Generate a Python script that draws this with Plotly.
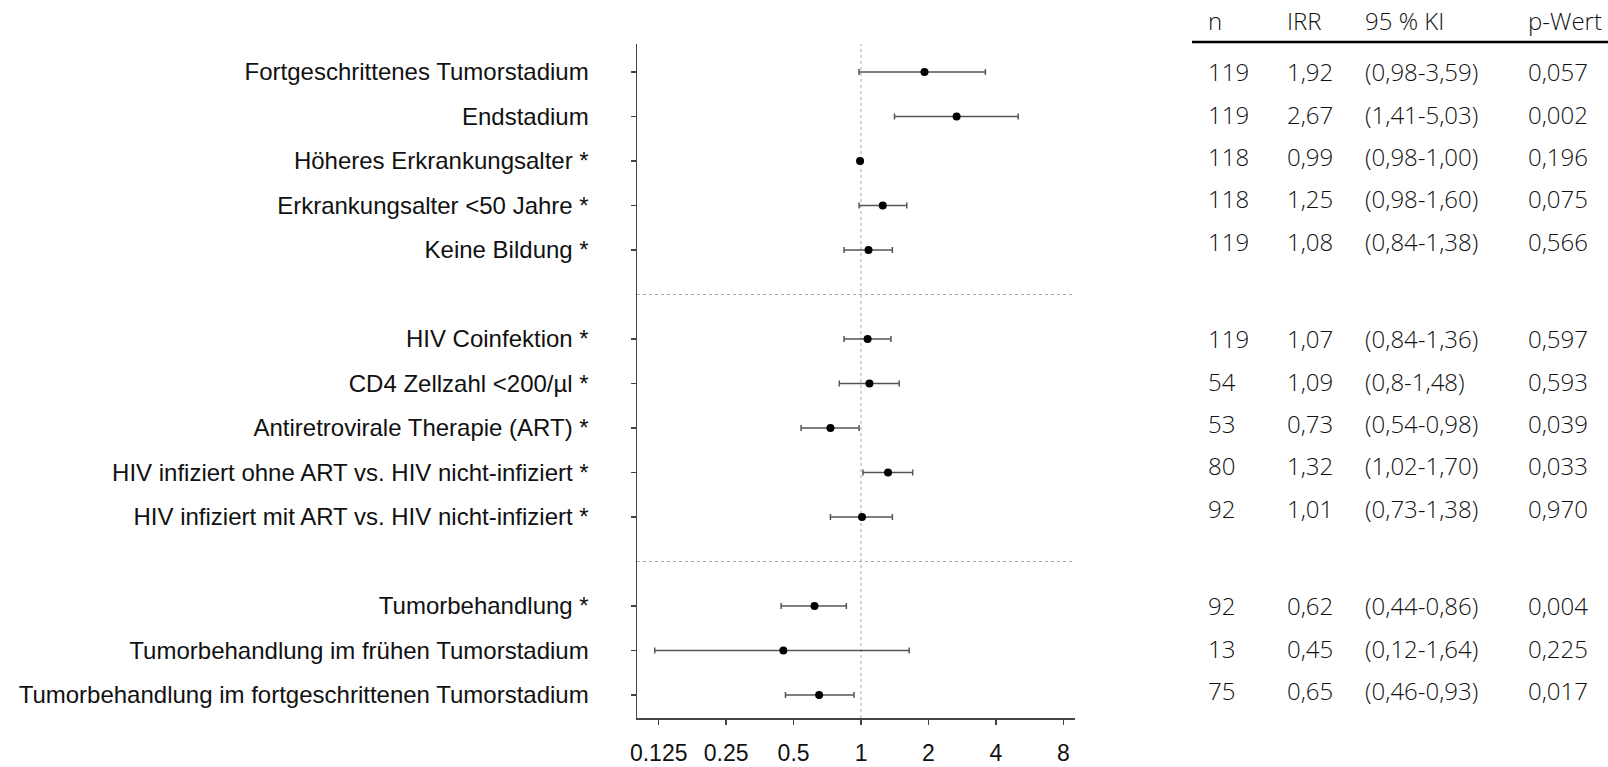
import plotly.graph_objects as go

# ---------------- data ----------------
labels = [
    "Fortgeschrittenes Tumorstadium",
    "Endstadium",
    "Höheres Erkrankungsalter *",
    "Erkrankungsalter <50 Jahre *",
    "Keine Bildung *",
    "HIV Coinfektion *",
    "CD4 Zellzahl <200/µl *",
    "Antiretrovirale Therapie (ART) *",
    "HIV infiziert ohne ART vs. HIV nicht-infiziert *",
    "HIV infiziert mit ART vs. HIV nicht-infiziert *",
    "Tumorbehandlung *",
    "Tumorbehandlung im frühen Tumorstadium",
    "Tumorbehandlung im fortgeschrittenen Tumorstadium",
]
groups = [5, 5, 3]  # rows per group, separated by dotted lines
n_vals = [119, 119, 118, 118, 119, 119, 54, 53, 80, 92, 92, 13, 75]
irr = [1.92, 2.67, 0.99, 1.25, 1.08, 1.07, 1.09, 0.73, 1.32, 1.01, 0.62, 0.45, 0.65]
ci_lo = [0.98, 1.41, 0.98, 0.98, 0.84, 0.84, 0.80, 0.54, 1.02, 0.73, 0.44, 0.12, 0.46]
ci_hi = [3.59, 5.03, 1.00, 1.60, 1.38, 1.36, 1.48, 0.98, 1.70, 1.38, 0.86, 1.64, 0.93]
ci_text = ["(0,98-3,59)", "(1,41-5,03)", "(0,98-1,00)", "(0,98-1,60)", "(0,84-1,38)",
           "(0,84-1,36)", "(0,8-1,48)", "(0,54-0,98)", "(1,02-1,70)", "(0,73-1,38)",
           "(0,44-0,86)", "(0,12-1,64)", "(0,46-0,93)"]
irr_text = ["1,92", "2,67", "0,99", "1,25", "1,08", "1,07", "1,09", "0,73", "1,32", "1,01",
            "0,62", "0,45", "0,65"]
p_text = ["0,057", "0,002", "0,196", "0,075", "0,566", "0,597", "0,593", "0,039", "0,033",
          "0,970", "0,004", "0,225", "0,017"]
headers = ["n", "IRR", "95 % KI", "p-Wert"]
x_ticks = [0.125, 0.25, 0.5, 1, 2, 4, 8]
x_ticktext = ["0.125", "0.25", "0.5", "1", "2", "4", "8"]

# ---------------- layout constants ----------------
W, H = 1608, 767
# plot area in window pixels: x 637..1075, y 44..718
ML, MT = 637, 44
MR, MB = W - 1075, H - 718
PW, PH = W - ML - MR, H - MT - MB

# row positions (group gaps of one row)
ypos, sep_pos, group_idx, in_group = [], [], [], []
pos = 1
for gi, g in enumerate(groups):
    for k in range(g):
        ypos.append(pos)
        group_idx.append(gi)
        in_group.append(k)
        pos += 1
    if gi < len(groups) - 1:
        sep_pos.append(pos)
        pos += 1
y_top, y_bot = 0.371, 15.517


def px_x(px):  # window pixel -> paper
    return (px - ML) / PW


def px_y(py):
    return 1 - (py - MT) / PH


def row_px(y):  # data row -> window pixel
    return MT + (y - y_top) / (y_bot - y_top) * PH


fig = go.Figure()
fig.add_trace(go.Scatter(
    x=irr, y=ypos, mode="markers",
    marker=dict(color="black", size=8),
    error_x=dict(type="data", symmetric=False,
                 array=[h - v for h, v in zip(ci_hi, irr)],
                 arrayminus=[v - l for v, l in zip(irr, ci_lo)],
                 color="#555555", thickness=1.5, width=3),
    showlegend=False, hoverinfo="skip",
))

# reference line at 1 and group separators
fig.add_shape(type="line", xref="x", yref="paper", x0=1, x1=1, y0=0, y1=1,
              line=dict(color="#aaaaaa", width=1, dash="dot"), layer="below")
for s in sep_pos:
    fig.add_shape(type="line", xref="paper", yref="y", x0=0, x1=1, y0=s, y1=s,
                  line=dict(color="#aaaaaa", width=1, dash="dot"), layer="below")

# table on the right
col_px = [1206, 1285, 1363, 1526]
tfont = dict(family="Open Sans", size=24, color="#111111", weight=300)
for h, cx in zip(headers, col_px):
    fig.add_annotation(text=h, xref="paper", yref="paper", x=px_x(cx), y=px_y(21),
                       xanchor="left", yanchor="middle", showarrow=False, font=tfont)
fig.add_shape(type="line", xref="paper", yref="paper", x0=px_x(1192), x1=px_x(1608),
              y0=px_y(42), y1=px_y(42), line=dict(color="black", width=2.5))

row_step = 42.3
first_of_group = {}
for i, y in enumerate(ypos):
    if in_group[i] == 0:
        first_of_group[group_idx[i]] = row_px(y)
for i in range(len(labels)):
    py = first_of_group[group_idx[i]] + in_group[i] * row_step
    for txt, cx in zip([str(n_vals[i]), irr_text[i], ci_text[i], p_text[i]], col_px):
        fig.add_annotation(text=txt, xref="paper", yref="paper", x=px_x(cx), y=px_y(py),
                           xanchor="left", yanchor="middle", showarrow=False, font=tfont)

fig.update_layout(
    width=W, height=H,
    margin=dict(l=ML, r=MR, t=MT, b=MB, pad=0, autoexpand=False),
    plot_bgcolor="white", paper_bgcolor="white",
    font=dict(family="Liberation Sans, Arial, sans-serif", color="#111111"),
    xaxis=dict(type="log", range=[-1.0, 0.955], tickvals=x_ticks, ticktext=x_ticktext,
               showgrid=False, zeroline=False, showline=True, linecolor="#444444",
               linewidth=1.5, ticks="outside", ticklen=5, tickcolor="#444444",
               tickwidth=1.5, tickfont=dict(size=23, color="#111111"),
               ticklabelstandoff=9, automargin=False),
    yaxis=dict(range=[y_bot, y_top], tickvals=ypos, ticktext=labels,
               showgrid=False, zeroline=False, showline=True, linecolor="#444444",
               linewidth=1.5, ticks="outside", ticklen=5, tickcolor="#444444",
               tickwidth=1.5, tickfont=dict(size=24, color="#111111"),
               ticklabelstandoff=37, automargin=False),
)

fig.write_html(
    "out.html",
    config={"displayModeBar": False, "staticPlot": True},
    post_script="document.body.style.margin='0';document.body.style.overflow='hidden';",
)
